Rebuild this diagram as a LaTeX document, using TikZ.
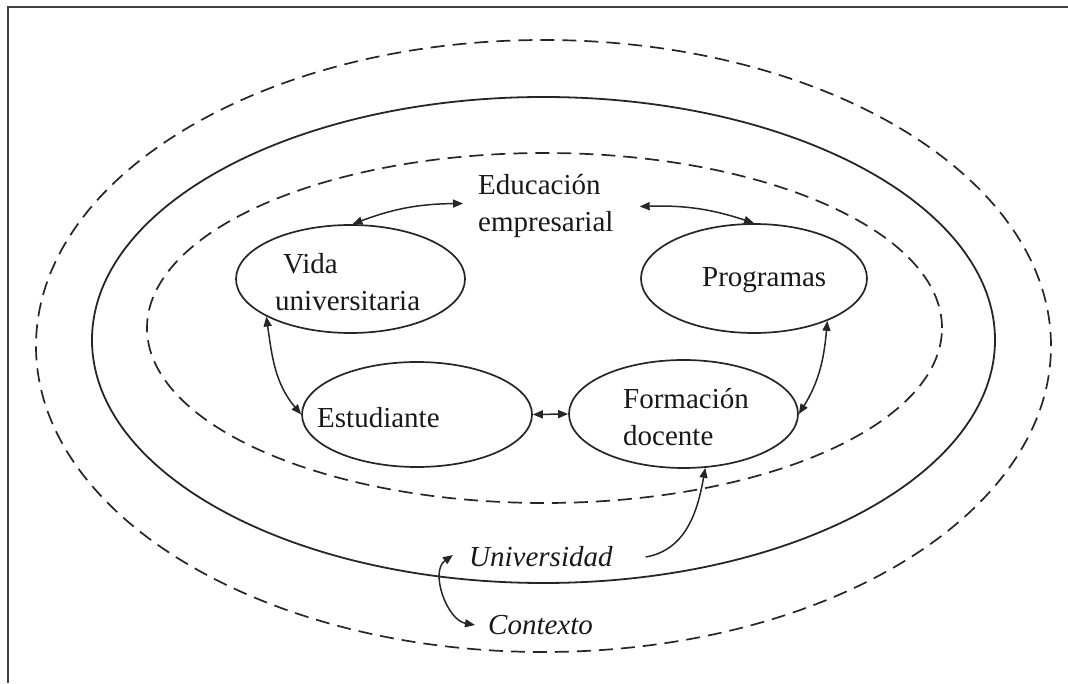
\documentclass[tikz,border=0pt]{standalone}
\usepackage{fontspec}
\setmainfont{Liberation Serif}
\usetikzlibrary{arrows.meta,shapes.geometric}
\begin{document}
\begin{tikzpicture}[x=1pt,y=1pt,
  bubble/.style={draw, ellipse, inner sep=0pt, line width=1.7pt, draw=black!85},
  lbl/.style={font=\fontsize{29}{37}\selectfont, inner sep=0pt, anchor=west, align=left, text=black!90},
  itl/.style={lbl, font=\fontsize{29}{37}\selectfont\itshape},
  ring/.style={line width=1.8pt, draw=black!85},
  dashring/.style={line width=1.7pt, draw=black!85, dash pattern=on 14pt off 8pt},
  tip/.tip={Triangle[length=10pt,width=8pt]},
  link/.style={line width=1.5pt, draw=black!85, tip-tip},
  oneway/.style={line width=1.5pt, draw=black!85, -tip}]
\useasboundingbox (0,0) rectangle (1068,683);
% frame (top and left edges only)
\draw[line width=2.2pt, black!75] (8,0) -- (8,676) -- (1068,676);
% rings
\draw[dashring] (543.5,337) ellipse [x radius=507.5pt, y radius=306pt];
\draw[ring] (543.5,343) ellipse [x radius=451.5pt, y radius=243pt];
\draw[dashring] (544.5,355) ellipse [x radius=397.5pt, y radius=175pt];
% bubbles
\node[bubble, minimum width=229pt, minimum height=108pt] (vida) at (350.5,404) {};
\node[bubble, minimum width=226pt, minimum height=109pt] (prog) at (754,404.5) {};
\node[bubble, minimum width=230pt, minimum height=105pt] (est) at (417,268.5) {};
\node[bubble, minimum width=229pt, minimum height=108pt] (form) at (683.5,269) {};
% labels
\node[lbl] (educ) at (478,476.5) {Educación\\empresarial};
\node[lbl] (vidat) at (275,400.5) {\hspace*{8pt}Vida\\universitaria};
\node[lbl] (progt) at (702,403) {Programas};
\node[lbl] (estt) at (317,265) {Estudiante};
\node[lbl] (formt) at (623,265.5) {Formación\\docente};
\node[itl] (univ) at (469,126) {Universidad};
\node[itl] (cont) at (488,58) {Contexto};
% connectors
\draw[link] (vida.88) to[bend left=10] ([shift={(-15pt,3pt)}]educ.west);
\draw[link] ([xshift=26pt]educ.east) to[bend left=10] (prog.north);
\draw[link] (vida.204) to[out=-82, in=130] (est.west);
\draw[link] (est.east) -- (form.west);
\draw[link] (prog.-30) to[out=-95, in=58] (form.east);
\draw[oneway] ([xshift=33pt]univ.east) to[out=10, in=-100] (form.-68);
\draw[link] ([shift={(-16pt,2pt)}]univ.west) to[out=215, in=170] ([xshift=-13pt]cont.west);
\end{tikzpicture}
\end{document}
